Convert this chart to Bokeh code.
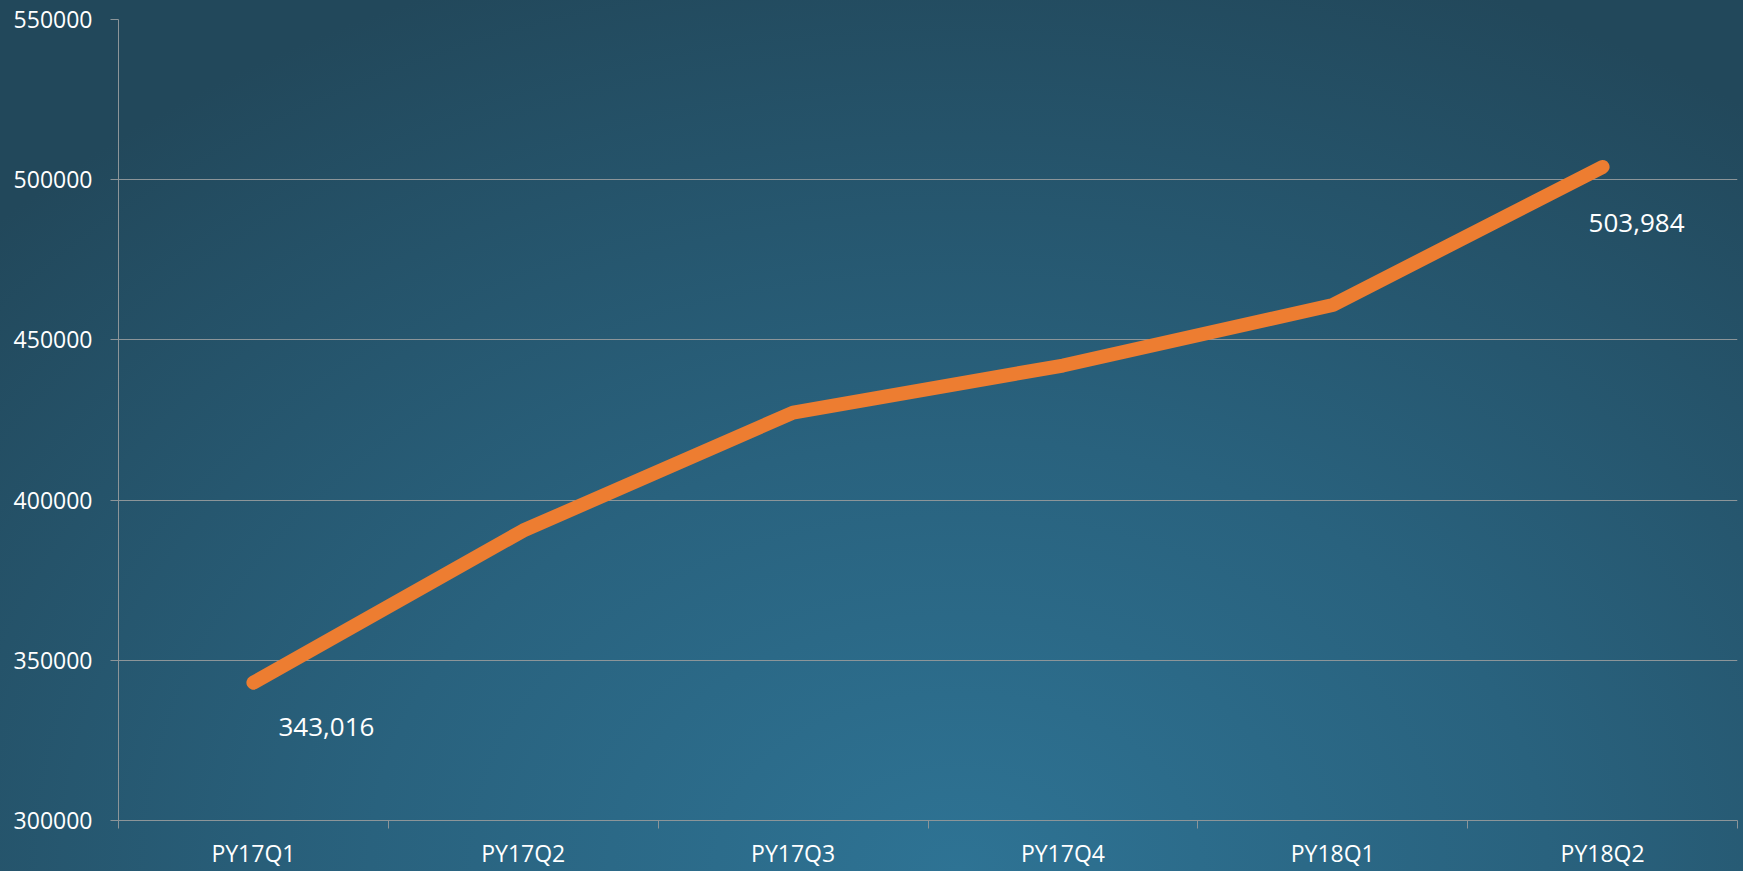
from bokeh.plotting import figure
from bokeh.models import ColumnDataSource, FixedTicker, PrintfTickFormatter, Range1d
from bokeh.core.properties import value
from bokeh.embed import file_html
from bokeh.resources import INLINE

categories = ["PY17Q1", "PY17Q2", "PY17Q3", "PY17Q4", "PY18Q1", "PY18Q2"]
values = [343016, 390500, 427300, 442000, 460900, 503984]
y_ticks = [300000, 350000, 400000, 450000, 500000, 550000]
label_idx = [0, 5]
label_texts = ["343,016", "503,984"]
label_dx = [73, 34]
label_dy = [44, 56]

xs = [i + 0.5 for i in range(len(categories))]
src = ColumnDataSource(dict(x=xs, y=values))
lab = ColumnDataSource(dict(
    x=[xs[i] for i in label_idx],
    y=[values[i] for i in label_idx],
    t=label_texts, dx=label_dx, dy=label_dy,
))

FONT = "Open Sans"
W, H = 1743, 871

p = figure(width=W, height=H, output_backend="svg", toolbar_location=None,
           x_range=Range1d(0, len(categories)), y_range=Range1d(300000, 550000),
           min_border_left=118, min_border_right=6, min_border_top=19, min_border_bottom=49)
p.styles = {"background-image": "radial-gradient(ellipse 75% 110% at 55% 100%, #2e7394 0%, #29627e 45%, #22485b 100%)"}
p.background_fill_color = None
p.border_fill_color = None
p.outline_line_color = None

grid_col = "#8c9599"
# y axis
ya = p.yaxis[0]
ya.ticker = FixedTicker(ticks=y_ticks, minor_ticks=[])
ya.formatter = PrintfTickFormatter(format="%d")
ya.axis_line_color = grid_col
ya.major_tick_line_color = grid_col
ya.major_tick_out = 8
ya.major_tick_in = 0
ya.minor_tick_line_color = None
ya.major_label_standoff = 18
ya.major_label_text_color = "white"
ya.major_label_text_font = FONT
ya.major_label_text_font_size = "23px"

# x axis
xa = p.xaxis[0]
xa.ticker = FixedTicker(ticks=xs, minor_ticks=list(range(len(categories) + 1)))
xa.major_label_overrides = {x: c for x, c in zip(xs, categories)}
xa.axis_line_color = grid_col
xa.major_tick_line_color = None
xa.minor_tick_line_color = grid_col
xa.minor_tick_out = 8
xa.minor_tick_in = 0
xa.major_label_standoff = 8
xa.major_label_text_color = "white"
xa.major_label_text_font = FONT
xa.major_label_text_font_size = "23px"

p.xgrid.grid_line_color = None
p.ygrid.ticker = FixedTicker(ticks=y_ticks[1:])
p.ygrid.grid_line_color = grid_col
p.ygrid.grid_line_width = 1

p.line("x", "y", source=src, line_width=14, line_color="#ED7D31",
       line_cap="round", line_join="round")

p.text("x", "y", text="t", source=lab, x_offset="dx", y_offset="dy",
       text_align="center", text_baseline="middle", text_color="white",
       text_font=value(FONT), text_font_size="26px")

open("out.html", "w").write(file_html(p, INLINE))
